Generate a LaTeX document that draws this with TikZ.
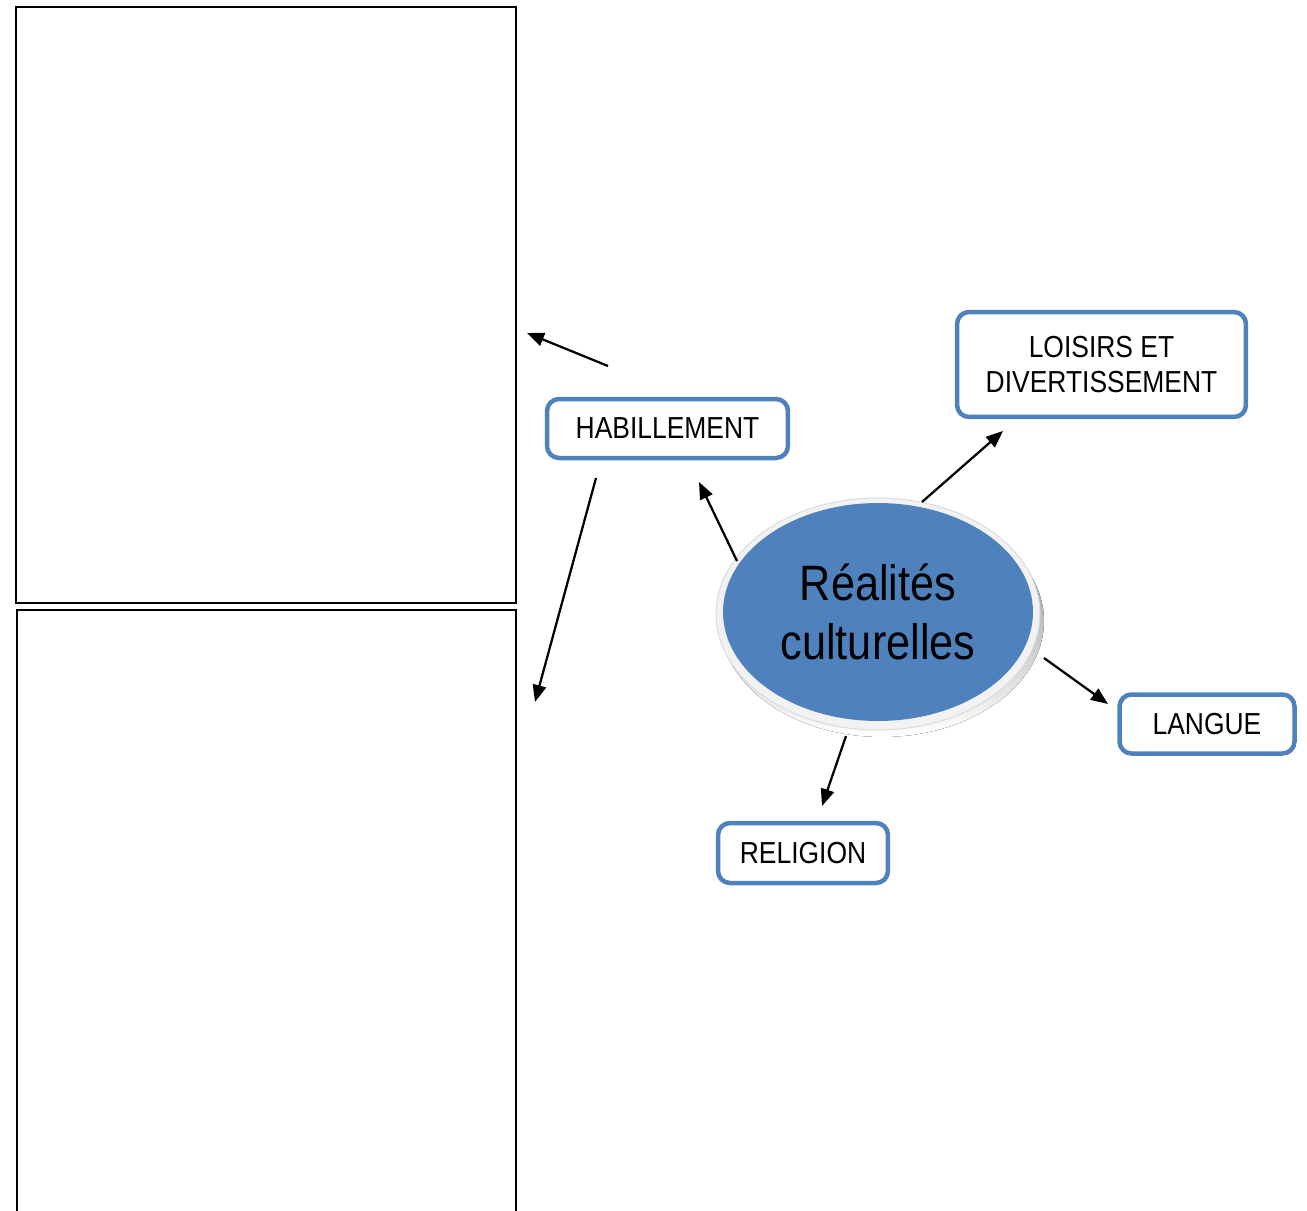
\documentclass[tikz,border=0pt]{standalone}
\usepackage{fontspec}
\setmainfont{Liberation Sans}[FakeStretch=0.87]
\usetikzlibrary{shapes.geometric,arrows.meta}
\definecolor{ofblue}{HTML}{4F81BD}
\definecolor{rimfill}{HTML}{F2F2F2}
\definecolor{rimline}{HTML}{D6DCE5}
\definecolor{shade}{HTML}{8593A8}
\tikzset{
    topic/.style={draw=ofblue, line width=0.09cm, rounded corners=0.24cm, fill=white, align=center, inner sep=0pt, font=\fontsize{17.3}{20.4}\selectfont},
    frame/.style={draw=black, line width=0.04cm, inner sep=0pt},
    link/.style={-{Triangle[length=0.34cm,width=0.27cm]}, line width=0.045cm}
}

\begin{document}
\begin{tikzpicture}[x=0.02cm,y=-0.02cm]
\clip (0,0) rectangle (1307,1210);

\node[frame, minimum width=10cm, minimum height=11.92cm] (upper) at (266,305) {};
\node[frame, minimum width=9.98cm, minimum height=12.6cm] (lower) at (266.5,925) {};

\fill[shade] (882,621) ellipse [x radius=3.24cm, y radius=2.32cm];
\filldraw[fill=rimfill, draw=rimline, line width=0.02cm] (878,614) ellipse [x radius=3.24cm, y radius=2.32cm];
\node[ellipse, fill=ofblue, minimum width=6.2cm, minimum height=4.36cm, inner sep=0pt, align=center, font=\fontsize{28.3}{34}\selectfont] (core) at (878,612) {Réalités\\culturelles};

\node[topic, minimum width=4.82cm, minimum height=1.18cm] (hab) at (667.5,428.5) {HABILLEMENT};
\node[topic, minimum width=5.78cm, minimum height=2.1cm] (loisirs) at (1101.5,364.5) {LOISIRS ET\\DIVERTISSEMENT};
\node[topic, minimum width=3.5cm, minimum height=1.18cm] (langue) at (1207,724) {LANGUE};
\node[topic, minimum width=3.4cm, minimum height=1.2cm] (religion) at (803,853) {RELIGION};

\coordinate (hab-up) at (608,366);
\coordinate (upper-in) at (527,333);
\coordinate (hab-down) at (596,478);
\coordinate (lower-in) at (535,702);
\coordinate (core-hab) at (737,561);
\coordinate (hab-in) at (699,482);
\coordinate (core-loisirs) at (922,502);
\coordinate (loisirs-in) at (1003,431);
\coordinate (core-langue) at (1044,658);
\coordinate (langue-in) at (1108,704);
\coordinate (core-religion) at (846,736);
\coordinate (religion-in) at (822,806);

\draw[link] (hab-up) -- (upper-in);
\draw[link] (hab-down) -- (lower-in);
\draw[link] (core-hab) -- (hab-in);
\draw[link] (core-loisirs) -- (loisirs-in);
\draw[link] (core-langue) -- (langue-in);
\draw[link] (core-religion) -- (religion-in);
\end{tikzpicture}
\end{document}
